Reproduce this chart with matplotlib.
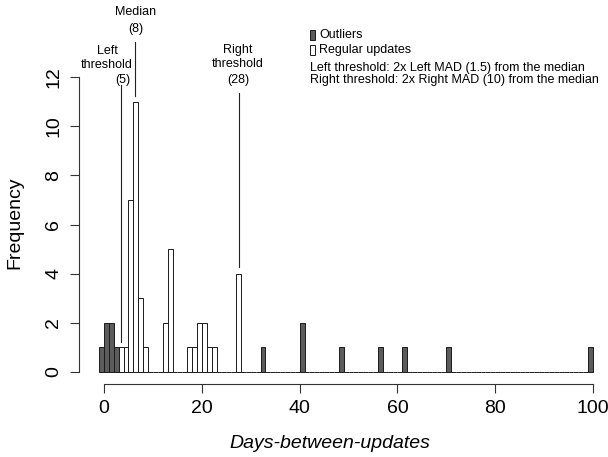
import matplotlib
matplotlib.use("Agg")
import matplotlib.pyplot as plt
from matplotlib.patches import Rectangle
import numpy as np

# histogram bins are one day wide, keyed by left edge
bin_edges = list(range(-1, 100))

outlier_bins = [-1, 0, 1, 2, 32, 40, 48, 56, 61, 70, 99]
outlier_counts = [1, 2, 2, 1, 1, 2, 1, 1, 1, 1, 1]

regular_bins = [3, 4, 5, 6, 7, 8, 12, 13, 17, 18, 19, 20, 21, 22, 27]
regular_counts = [1, 1, 7, 11, 3, 1, 2, 5, 1, 1, 2, 2, 1, 1, 4]

# threshold markers (position of line, label)
left_thr = 5
median = 8
right_thr = 28
left_mad = 1.5
right_mad = 10

plt.rcParams['font.family'] = ['Liberation Sans', 'DejaVu Sans']

W, H = 608, 457
fig = plt.figure(figsize=(W / 100, H / 100), dpi=100)
ax = fig.add_axes([79.4 / W, 1 - 383.8 / H, (612.8 - 79.4) / W, (383.8 - 65.2) / H])

out_h = dict(zip(outlier_bins, outlier_counts))
reg_h = dict(zip(regular_bins, regular_counts))

ax.bar(bin_edges, [out_h.get(b, 0) for b in bin_edges], width=1, align='edge',
       color='#5c5c5c', edgecolor='#1a1a1a', linewidth=0.7)
reg_x = [b for b in bin_edges if b not in out_h or b in reg_h]
ax.bar(regular_bins, regular_counts, width=1, align='edge',
       color='white', edgecolor='#1a1a1a', linewidth=0.7)

ax.set_xlim(-5.04, 104.04)
ax.set_ylim(-0.48, 12.48)

for s in ['top', 'right']:
    ax.spines[s].set_visible(False)
ax.spines['left'].set_bounds(0, 12)
ax.spines['bottom'].set_bounds(0, 100)
ax.spines['left'].set_color('#333333')
ax.spines['bottom'].set_color('#333333')

ax.set_xticks(np.arange(0, 101, 20))
ax.set_yticks(np.arange(0, 13, 2))
ax.tick_params(direction='out', length=6.5, width=0.8, color='#333333', labelsize=14)
ax.tick_params(axis='x', pad=5)
ax.tick_params(axis='y', pad=6)
for lab in ax.get_yticklabels():
    lab.set_rotation(90)
    lab.set_va('center')

fig.text(15 / W, 1 - 223 / H, 'Frequency', rotation=90, ha='center', va='center', fontsize=14)
fig.text(330 / W, 1 - 443 / H, 'Days-between-updates', style='italic', ha='center', va='center', fontsize=14)

# vertical marker lines
def px2y(py):
    return (372 - py) / 24.58

ax.plot([left_thr - 1.5, left_thr - 1.5], [px2y(342), px2y(85)], color='#222222', lw=0.8, clip_on=False)
ax.plot([median - 1.6, median - 1.6], [px2y(96), px2y(42)], color='#222222', lw=0.8, clip_on=False)
ax.plot([right_thr - 0.5, right_thr - 0.5], [px2y(267), px2y(93)], color='#222222', lw=0.8, clip_on=False)

def ftxt(x, y, s, **kw):
    fig.text(x / W, 1 - y / H, s, ha='center', va='center', fontsize=9, **kw)

ftxt(136, 12, 'Median')
ftxt(136, 29, '(%d)' % median)
ftxt(107, 51, 'Left')
ftxt(107, 65, 'threshold')
ftxt(123, 80, '(%d)' % left_thr)
ftxt(238, 50, 'Right')
ftxt(238, 64, 'threshold')
ftxt(238, 80, '(%d)' % right_thr)

# legend
fig.patches.append(Rectangle((310 / W, 1 - 39.5 / H), 5 / W, 9 / H, transform=fig.transFigure,
                             facecolor='#5c5c5c', edgecolor='#1a1a1a', lw=0.7))
fig.patches.append(Rectangle((310 / W, 1 - 54.5 / H), 5 / W, 9 / H, transform=fig.transFigure,
                             facecolor='white', edgecolor='#1a1a1a', lw=0.7))
fig.text(319 / W, 1 - 35 / H, 'Outliers', ha='left', va='center', fontsize=9)
fig.text(319 / W, 1 - 50 / H, 'Regular updates', ha='left', va='center', fontsize=9)
fig.text(310 / W, 1 - 68 / H, 'Left threshold: 2x Left MAD (%s) from the median' % left_mad,
         ha='left', va='center', fontsize=9)
fig.text(310 / W, 1 - 80 / H, 'Right threshold: 2x Right MAD (%d) from the median' % right_mad,
         ha='left', va='center', fontsize=9)

fig.savefig('out.png', dpi=100)
